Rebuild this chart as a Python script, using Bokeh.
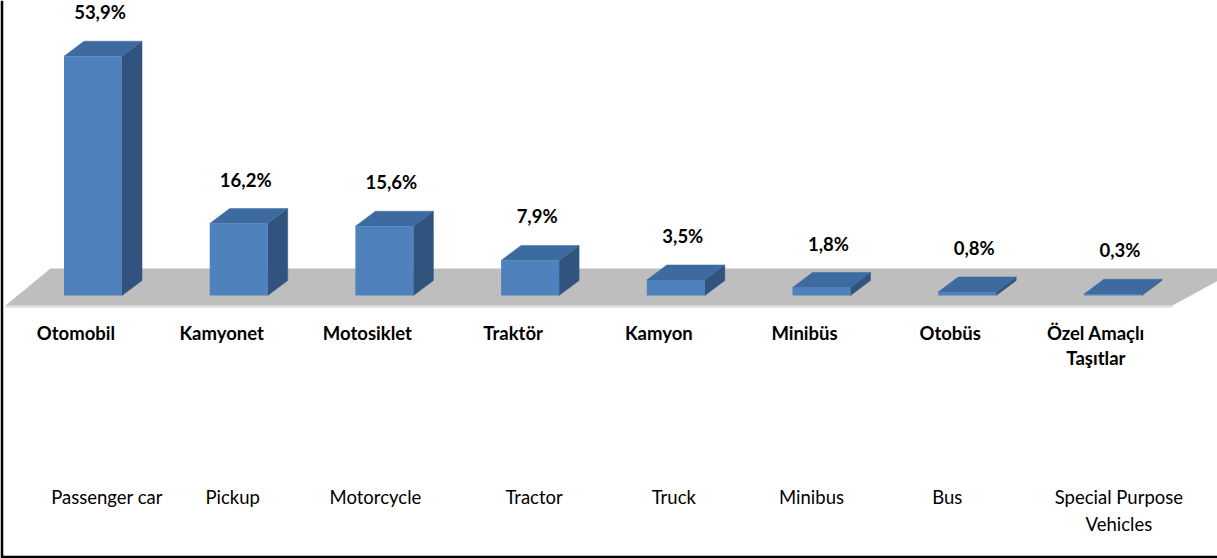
from bokeh.plotting import figure
from bokeh.models import Range1d
from bokeh.core.properties import value
from bokeh.embed import file_html
from bokeh.resources import INLINE

# ---------------- data ----------------
categories_tr = ["Otomobil", "Kamyonet", "Motosiklet", "Traktör", "Kamyon",
                 "Minibüs", "Otobüs", "Özel Amaçlı\nTaşıtlar"]
categories_en = ["Passenger car", "Pickup", "Motorcycle", "Tractor", "Truck",
                 "Minibus", "Bus", "Special Purpose\nVehicles"]
shares = [53.9, 16.2, 15.6, 7.9, 3.5, 1.8, 0.8, 0.3]
share_labels = ["53,9%", "16,2%", "15,6%", "7,9%", "3,5%", "1,8%", "0,8%", "0,3%"]

# ---------------- layout ----------------
W, H = 1217, 558
BL, BB = 3, 3                 # black frame lines (left / bottom)
FW, FH = W - BL, H - BB       # plot frame size
STEP = 145.7                  # px per category
X0 = 89.5                     # px from frame left to first bar centre
PPU = 4.44                    # px per percent
BASE = 295                    # px from frame top to bar base

def dxu(px):
    return px / STEP

def dyu(px):
    return px / PPU

def pic_pt(X, Y):
    # picture pixel -> data coords
    return (X - BL - X0) / STEP, (BASE - Y) / PPU

FONT = value("Lato")
FRONT = "#4F81BD"
TOP = "#3D6A9F"
SIDE = "#31547F"
FLOOR = "#BEBEBE"

p = figure(width=W, height=H, output_backend="svg", toolbar_location=None,
           x_range=Range1d(-X0 / STEP, (FW - X0) / STEP),
           y_range=Range1d(-(FH - BASE) / PPU, BASE / PPU),
           x_axis_location=None, y_axis_location=None,
           min_border_left=BL, min_border_bottom=BB,
           min_border_top=0, min_border_right=0)
p.border_fill_color = "black"
p.background_fill_color = "white"
p.outline_line_color = None
p.grid.visible = False

# floor
fl = [pic_pt(5, 305), pic_pt(50, 268), pic_pt(1240, 268), pic_pt(1172, 305)]
p.patch([q[0] for q in fl], [q[1] for q in fl], fill_color=FLOOR, line_color=None)
el = [pic_pt(5, 306), pic_pt(1172, 306)]
p.line([q[0] for q in el], [q[1] for q in el], line_color="#D8D8D8", line_width=2)

n = len(shares)
xs = list(range(n))
bw = dxu(58)
ddx, ddy = dxu(20), dyu(15)

side_x, side_y, top_x, top_y = [], [], [], []
for i, v in zip(xs, shares):
    r = i + bw / 2
    l = i - bw / 2
    side_x.append([r, r + ddx, r + ddx, r])
    side_y.append([0, ddy, v + ddy, v])
    top_x.append([l, r, r + ddx, l + ddx])
    top_y.append([v, v, v + ddy, v + ddy])

p.patches(side_x, side_y, fill_color=SIDE, line_color=SIDE, line_width=0.5)
p.patches(top_x, top_y, fill_color=TOP, line_color=TOP, line_width=0.5)
p.vbar(x=xs, top=shares, bottom=0, width=bw, fill_color=FRONT, line_color=None)

# value labels
p.text(x=[i + dxu(7) for i in xs], y=[v + dyu(44) for v in shares], text=share_labels,
       text_font=FONT, text_font_style="bold", text_font_size="18.5px",
       text_color="black", text_align="center", text_baseline="middle")

# Turkish category labels
tx, ty, tt = [], [], []
for i, lab in zip(xs, categories_tr):
    for k, line in enumerate(lab.split("\n")):
        tx.append(i - dxu(17))
        ty.append(-dyu(37 + 25 * k))
        tt.append(line)
p.text(x=tx, y=ty, text=tt, text_font=FONT, text_font_style="bold",
       text_font_size="18.5px", text_color="black",
       text_align="center", text_baseline="middle")

# English category labels
en_nudge_px = [14, -6, -9, 4, -2, -10, -20, 6]
ex, ey, et = [], [], []
for i, lab, nd in zip(xs, categories_en, en_nudge_px):
    for k, line in enumerate(lab.split("\n")):
        ex.append(i + dxu(nd))
        ey.append(-dyu(201 + 27 * k))
        et.append(line)
p.text(x=ex, y=ey, text=et, text_font=FONT, text_font_size="18.5px",
       text_color="black", text_align="center", text_baseline="middle")

open("out.html", "w").write(file_html(p, INLINE))
